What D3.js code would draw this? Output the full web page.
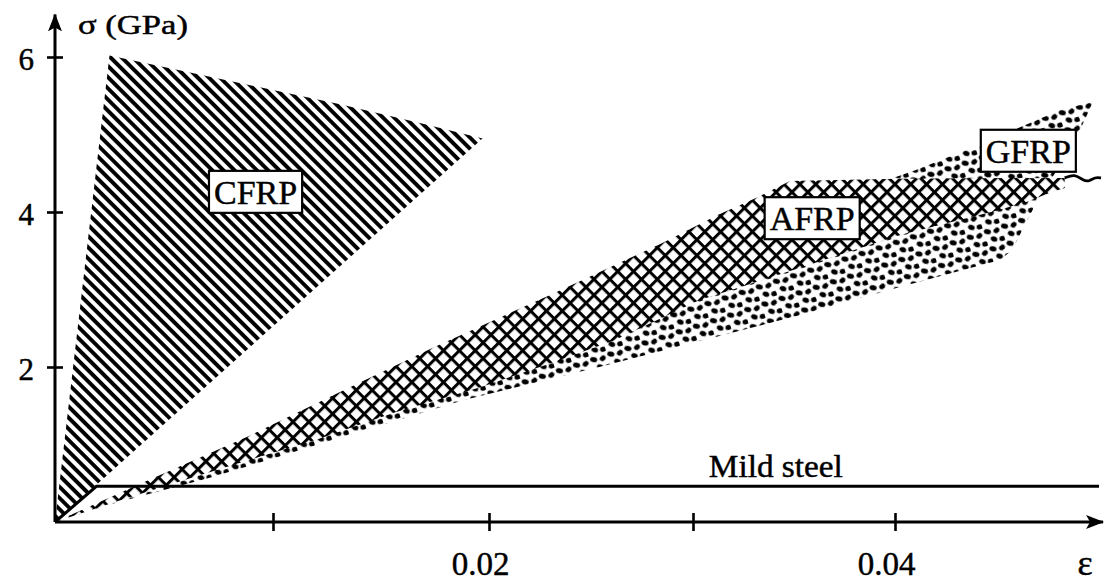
<!DOCTYPE html>
<html>
<head>
<meta charset="utf-8">
<script src="https://cdn.jsdelivr.net/npm/d3@7"></script>
<style>
  html, body { margin: 0; padding: 0; background: #fff; }
  svg { display: block; }
  text { font-family: "Liberation Serif", "Times New Roman", serif; fill: #000; stroke: #000; stroke-width: 0.45px; }
</style>
</head>
<body>
<svg id="chart" width="1106" height="584"></svg>
<script>
// Stress–strain envelopes of FRP reinforcement compared with mild steel.
// Strain ε (–) and stress σ (GPa) along each band's outline.
const cfrpStrain = [0, 0.0025, 0.0057, 0.0094, 0.0131, 0.0168, 0.0197];
const cfrpStress = [0, 6.02, 5.83, 5.61, 5.39, 5.15, 4.95];

const afrpStrain = [0, 0.0042, 0.0089, 0.0132, 0.0174, 0.0230, 0.0285, 0.0313, 0.0332, 0.0348, 0.0402, 0.0484,
                    0.0484, 0.0478, 0.0465, 0.0452, 0.0402, 0.0353, 0.0303, 0.0261, 0.0226, 0.0196, 0.0157,
                    0.0120, 0.0089, 0.0059, 0.0030];
const afrpStress = [0, 0.53, 1.11, 1.69, 2.25, 2.93, 3.60, 3.97, 4.19, 4.40, 4.43, 4.44,
                    4.31, 4.26, 4.13, 4.03, 3.70, 3.28, 2.86, 2.34, 2.01, 1.74, 1.42,
                    1.06, 0.80, 0.54, 0.28];

// ragged end of the aramid band
const afrpTailStrain = [0.0484, 0.0489, 0.0493, 0.0496, 0.0499, 0.0502];
const afrpTailStress = [4.44, 4.49, 4.41, 4.39, 4.45, 4.44];

const gfrpStrain = [0, 0.0028, 0.0071, 0.0120, 0.0188, 0.0254, 0.0353, 0.0402, 0.0452, 0.0458, 0.0465, 0.0472,
                    0.0482, 0.0492, 0.0498, 0.0482, 0.0468, 0.0440, 0.0410, 0.0388, 0.0353, 0.0254, 0.0159, 0.0067];
const gfrpStress = [0, 0.25, 0.57, 0.99, 1.57, 2.00, 2.67, 3.03, 3.38, 3.51, 3.87, 4.22,
                    4.61, 5.08, 5.42, 5.32, 5.16, 4.85, 4.54, 4.34, 3.77, 2.61, 1.57, 0.67];

const steelStrain = [0, 0.0019, 0.0501];
const steelStress = [0, 0.46, 0.46];
const steelLabel = "Mild steel";

// material tags and where they sit (ε, σ)
const materials = ["CFRP", "AFRP", "GFRP"];
const tagStrain = [0.0092, 0.0359, 0.0466];
const tagStress = [4.26, 3.92, 4.79];

// axes
const xTicks = [0.01, 0.02, 0.03, 0.04];
const xTickLabels = ["", "0.02", "", "0.04"];
const yTicks = [2, 4, 6];
const yTickLabels = ["2", "4", "6"];
const xMax = 0.0503;
const yMax = 6.55;
const xTitle = "ε";
const yTitle = "σ (GPa)";

const svg = d3.select("#chart");

// the strain axis is drawn by hand, so its tick spacing is kept piecewise
const x = d3.scaleLinear()
  .domain([0, 0.01, 0.02, 0.03, 0.04])
  .range([55, 273, 489, 693, 895]);
const y = d3.scaleLinear().domain([0, 6]).range([522, 57]);

const defs = svg.append("defs");

// CFRP: close diagonal hatching
const hatch = defs.append("pattern")
  .attr("id", "hatch").attr("patternUnits", "userSpaceOnUse")
  .attr("width", 10).attr("height", 7.9)
  .attr("patternTransform", "rotate(45)");
hatch.append("rect").attr("x", 0).attr("y", 0).attr("width", 10).attr("height", 3.9).attr("fill", "#000");

// AFRP: diamond cross-hatching on white
const cs = 11.2;
const cross = defs.append("pattern")
  .attr("id", "cross").attr("patternUnits", "userSpaceOnUse")
  .attr("width", cs).attr("height", cs)
  .attr("patternTransform", "rotate(45)");
cross.append("rect").attr("width", cs).attr("height", cs).attr("fill", "#fff");
cross.append("rect").attr("x", 0).attr("y", 0).attr("width", cs).attr("height", 3).attr("fill", "#000");
cross.append("rect").attr("x", 0).attr("y", 0).attr("width", 3).attr("height", cs).attr("fill", "#000");

// GFRP: irregular stipple
const stipple = defs.append("pattern")
  .attr("id", "stipple").attr("patternUnits", "userSpaceOnUse")
  .attr("width", 18).attr("height", 18)
  .attr("patternTransform", "rotate(-18)");
[[3.5, 3.5, 30, 3.6], [12.5, 5, -25, 3.2], [7.5, 12.5, 40, 3.4], [15.5, 14.5, 5, 3.0]].forEach(([cx, cy, r, rx]) => {
  stipple.append("ellipse")
    .attr("cx", cx).attr("cy", cy).attr("rx", rx).attr("ry", 2.5)
    .attr("transform", `rotate(${r},${cx},${cy})`)
    .attr("fill", "#000");
});

// arrow heads for the axes
defs.append("marker")
  .attr("id", "arrow").attr("markerUnits", "userSpaceOnUse")
  .attr("markerWidth", 22).attr("markerHeight", 16)
  .attr("refX", 17).attr("refY", 7).attr("orient", "auto")
  .append("path").attr("d", "M0,0 L18,7 L0,14 L4,7 Z").attr("fill", "#000");

const outline = d3.line().x(d => x(d[0])).y(d => y(d[1]));
const area = (e, s) => outline(d3.zip(e, s)) + "Z";

svg.append("path").attr("d", area(cfrpStrain, cfrpStress)).attr("fill", "url(#hatch)");
svg.append("path").attr("d", area(gfrpStrain, gfrpStress)).attr("fill", "url(#stipple)");
svg.append("path").attr("d", area(afrpStrain, afrpStress)).attr("fill", "url(#cross)");
svg.append("path")
  .attr("d", d3.line().x(d => x(d[0])).y(d => y(d[1])).curve(d3.curveBasis)(d3.zip(afrpTailStrain, afrpTailStress)))
  .attr("fill", "none").attr("stroke", "#000").attr("stroke-width", 2.8);

// mild steel
svg.append("path")
  .attr("d", outline(d3.zip(steelStrain, steelStress)))
  .attr("fill", "none").attr("stroke", "#000").attr("stroke-width", 3);
svg.append("text")
  .attr("x", x(0.0341)).attr("y", y(steelStress[2]) - 9)
  .attr("text-anchor", "middle").attr("font-size", 31)
  .attr("textLength", 134).attr("lengthAdjust", "spacingAndGlyphs")
  .text(steelLabel);

// x axis
const gx = svg.append("g").attr("transform", `translate(0,${y(0)})`)
  .call(d3.axisBottom(x).tickValues(xTicks)
    .tickFormat((d, i) => xTickLabels[i]).tickSizeInner(9).tickSizeOuter(0));
gx.select(".domain").remove();
gx.selectAll(".tick line").attr("y1", -9).attr("y2", 9).attr("stroke", "#000").attr("stroke-width", 2.6);
gx.selectAll(".tick text")
  .attr("y", 53).attr("dy", 0).attr("dx", -9)
  .attr("font-size", 33).attr("font-family", null).attr("fill", "#000");
svg.append("line")
  .attr("x1", x(0)).attr("x2", x(xMax)).attr("y1", y(0)).attr("y2", y(0))
  .attr("stroke", "#000").attr("stroke-width", 3).attr("marker-end", "url(#arrow)");

// y axis
const gy = svg.append("g").attr("transform", `translate(${x(0)},0)`)
  .call(d3.axisLeft(y).tickValues(yTicks)
    .tickFormat((d, i) => yTickLabels[i]).tickSizeInner(8).tickSizeOuter(0).tickPadding(13));
gy.select(".domain").remove();
gy.selectAll(".tick line").attr("x1", 8).attr("x2", -8).attr("stroke", "#000").attr("stroke-width", 2.6);
gy.selectAll(".tick text")
  .attr("dy", "0.4em").attr("font-size", 31).attr("font-family", null).attr("fill", "#000");
svg.append("line")
  .attr("x1", x(0)).attr("x2", x(0)).attr("y1", y(0)).attr("y2", y(yMax))
  .attr("stroke", "#000").attr("stroke-width", 3).attr("marker-end", "url(#arrow)");

// axis titles
svg.append("text")
  .attr("x", x(0) + 23).attr("y", y(yMax) + 20)
  .attr("font-size", 28).attr("textLength", 110).attr("lengthAdjust", "spacingAndGlyphs")
  .text(yTitle);
svg.append("text")
  .attr("x", x(xMax) - 18).attr("y", y(0) + 53)
  .attr("text-anchor", "middle").attr("font-size", 36)
  .text(xTitle);

// boxed material tags
materials.forEach((name, i) => {
  const g = svg.append("g").attr("transform", `translate(${x(tagStrain[i])},${y(tagStress[i])})`);
  const rect = g.append("rect");
  const t = g.append("text")
    .attr("text-anchor", "middle").attr("dy", "0.35em")
    .attr("font-size", 34).text(name);
  const w = t.node().getComputedTextLength() + 10;
  rect.attr("x", -w / 2).attr("y", -21).attr("width", w).attr("height", 42)
    .attr("fill", "#fff").attr("stroke", "#000").attr("stroke-width", 2.2);
});
</script>
</body>
</html>
